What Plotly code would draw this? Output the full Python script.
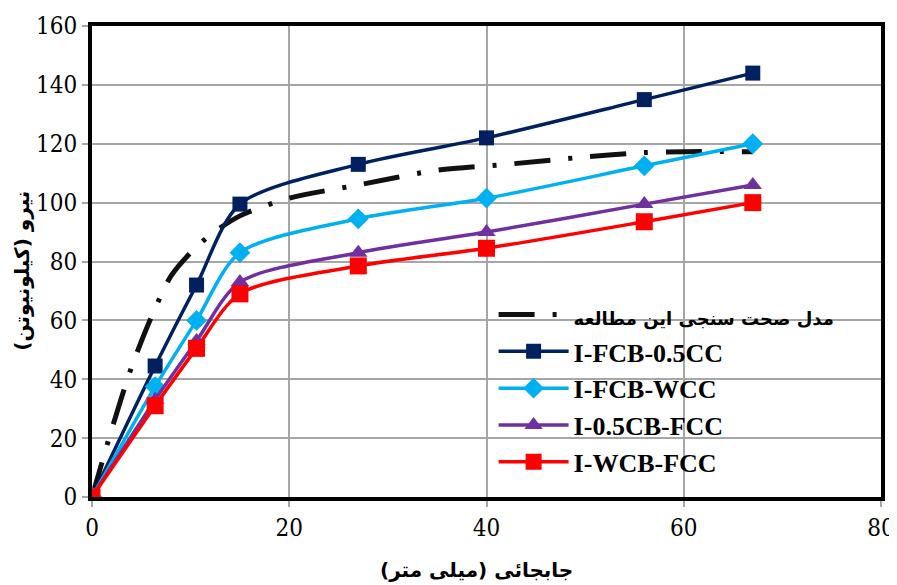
import plotly.graph_objects as go

# ---- data ----
model_x = [0, 2, 4, 6, 8, 10, 12, 15, 20, 27, 35, 42, 50, 56, 60, 67]
model_y = [0, 23, 44, 61, 75, 83, 89, 95.5, 101.5, 106, 111, 113, 115.5, 117, 117.3, 117.3]

disp = [0, 6.4, 10.6, 15, 27, 40, 56, 67]
fcb_05cc = [0, 44.5, 72, 99.5, 113, 122, 135, 144]
fcb_wcc = [0, 37.5, 60, 83, 94.5, 101.5, 112.5, 120]
cb05_fcc = [0, 33, 53, 73, 83, 90, 99.5, 106]
wcb_fcc = [0, 31, 50.5, 69, 78.5, 84.5, 93.5, 100]

names = ["مدل صحت سنجی این مطالعه", "I-FCB-0.5CC", "I-FCB-WCC", "I-0.5CB-FCC", "I-WCB-FCC"]
x_title = "جابجائی (میلی متر)"
y_title = "نیرو (کیلونیوتن)"
x_ticks = [0, 20, 40, 60, 80]
y_ticks = [0, 20, 40, 60, 80, 100, 120, 140, 160]

serif = "Liberation Serif"
tickfam = "DejaVu Serif Condensed, DejaVu Serif"
arabic = "DejaVu Sans"

fig = go.Figure()
fig.add_trace(go.Scatter(
    x=model_x, y=model_y, mode="lines",
    name='<span style="font-family:DejaVu Sans;font-size:18px">' + names[0] + "</span>",
    line=dict(color="#111111", width=5, dash="36px,18px,4px,18px", shape="spline", smoothing=0.8),
))
series = [
    (fcb_05cc, names[1], "#002060", "square", 15),
    (fcb_wcc, names[2], "#00B0F0", "diamond", 16),
    (cb05_fcc, names[3], "#7030A0", "triangle-up", 16),
    (wcb_fcc, names[4], "#FF0000", "square", 17),
]
for ys, nm, col, sym, sz in series:
    fig.add_trace(go.Scatter(
        x=disp, y=ys, mode="lines+markers", name=nm,
        line=dict(color=col, width=3.5, shape="spline", smoothing=0.8),
        marker=dict(symbol=sym, size=sz, color=col),
    ))

# page body has an 8px margin, so the figure is sized to fit the window
fig.update_layout(
    width=889, height=577,
    margin=dict(l=84, r=16, t=18, b=88),
    paper_bgcolor="white", plot_bgcolor="white",
    font=dict(family=serif, color="black", size=26),
    showlegend=True,
    legend=dict(
        x=0.509, y=0.437, xanchor="left", yanchor="top",
        bgcolor="rgba(0,0,0,0)", borderwidth=0,
        font=dict(family=serif, size=26, color="black", weight="bold"),
        itemwidth=70, tracegroupgap=0,
    ),
    xaxis=dict(
        range=[0, 80], tickvals=x_ticks, ticktext=[str(v) for v in x_ticks],
        showgrid=True, gridcolor="#A6A6A6", gridwidth=1.5,
        showline=True, linecolor="black", linewidth=4, mirror=True,
        ticks="outside", ticklen=6, tickcolor="#A6A6A6", tickwidth=1.5,
        tickfont=dict(family=tickfam, size=24, color="black"), zeroline=False,
        automargin=False,
    ),
    yaxis=dict(
        range=[0, 160], tickvals=y_ticks, ticktext=[str(v) for v in y_ticks],
        showgrid=True, gridcolor="#A6A6A6", gridwidth=1.5,
        showline=True, linecolor="black", linewidth=4, mirror=True,
        ticks="outside", ticklen=6, tickcolor="#A6A6A6", tickwidth=1.5,
        tickfont=dict(family=tickfam, size=24, color="black"), zeroline=False,
        automargin=False,
    ),
    annotations=[
        dict(text=x_title, xref="paper", yref="paper", x=0.487, y=-0.155,
             xanchor="center", yanchor="middle", showarrow=False,
             font=dict(family=arabic, size=20, weight="bold", color="black")),
        dict(text=y_title, xref="paper", yref="paper", x=-0.089, y=0.48,
             xanchor="center", yanchor="middle", showarrow=False, textangle=-90,
             font=dict(family=arabic, size=20, weight="bold", color="black")),
    ],
)

fig.write_html("out.html")
